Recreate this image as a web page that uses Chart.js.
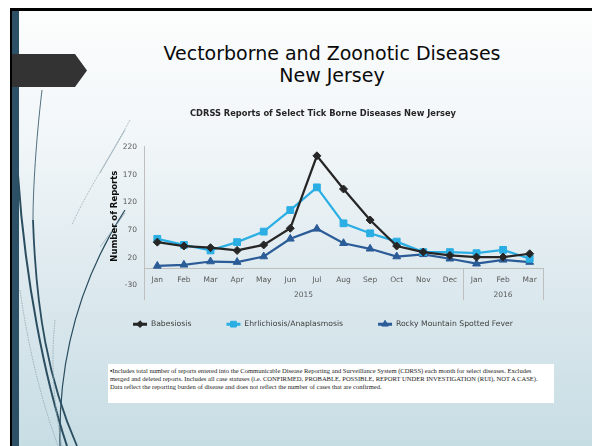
<!DOCTYPE html>
<html>
<head>
<meta charset="utf-8">
<script src="https://cdn.jsdelivr.net/npm/chart.js@4.4.1/dist/chart.umd.min.js"></script>
<style>
  html, body { margin: 0; padding: 0; background: #fff; }
  #page { position: relative; width: 592px; height: 446px; overflow: hidden; background: #fff; font-family: "DejaVu Sans", sans-serif; }
  #slide { position: absolute; left: 10px; top: 8px; right: 0; bottom: 0; border-top: 3px solid #000; border-left: 2px solid #000;
    background: linear-gradient(180deg, #fcfdfd 0%, #f1f6f8 30%, #dde9ee 62%, #c7dde4 100%); }
  #stripe { position: absolute; left: 12px; top: 11px; width: 7px; bottom: 0; background: #2c5166; }
  #deco { position: absolute; left: 0; top: 0; }
  #title { position: absolute; left: 132px; top: 42px; width: 400px; text-align: center; font-size: 19px; line-height: 22px; color: #0a0a0a; }
  #chart { position: absolute; left: 60px; top: 100px; }
  #note { position: absolute; left: 108px; top: 364px; width: 446px; height: 39px; background: #fff;
    font-family: "Liberation Serif", serif; font-size: 6.55px; line-height: 8px; color: #222; padding: 3px 0 0 2px; box-sizing: border-box; white-space: nowrap; }
</style>
</head>
<body>
<div id="page">
  <div id="slide"></div>
  <div id="stripe"></div>
  <svg id="deco" width="592" height="446">
    <polygon points="12,54 75,54 87,70.5 75,87 12,87" fill="#333333"/>
    <path d="M 42 90 C 36 140, 33 190, 33 220" fill="none" stroke="#2a4d60" stroke-width="0.8"/>
    <path d="M 33 220 C 36 310, 48 380, 77 446" fill="none" stroke="#2a4d60" stroke-width="1.8"/>
    <path d="M 18 175 C 25 280, 45 380, 67 446" fill="none" stroke="#2a4d60" stroke-width="2"/>
    <path d="M 125 210 C 80 280, 58 360, 60 446" fill="none" stroke="#2a4d60" stroke-width="1.2"/>
    <path d="M 130 120 C 105 165, 85 195, 72 225" fill="none" stroke="#9fb3bd" stroke-width="0.8" stroke-dasharray="2 1"/>
    <path d="M 125 130 L 100 173" fill="none" stroke="#8fa5b0" stroke-width="0.7"/>
    <path d="M 125 213 L 100 247" fill="none" stroke="#8fa5b0" stroke-width="0.7"/>
    <path d="M 20 290 C 30 360, 45 410, 58 446" fill="none" stroke="#8fa5b0" stroke-width="0.8" stroke-dasharray="1.5 1"/>
    <path d="M 55 320 C 50 370, 55 410, 62 446" fill="none" stroke="#8fa5b0" stroke-width="0.8" stroke-dasharray="1.5 1"/>
  </svg>
  <div id="title">Vectorborne and Zoonotic Diseases<br>New Jersey</div>
  <canvas id="chart" width="526" height="238"></canvas>
  <div id="note">&#9642;Includes total number of reports entered into the Communicable Disease Reporting and Surveillance System (CDRSS) each month for select diseases. Excludes<br>merged and deleted reports. Includes all case statuses (i.e. CONFIRMED, PROBABLE, POSSIBLE, REPORT UNDER INVESTIGATION (RUI), NOT A CASE).<br>Data reflect the reporting burden of disease and does not reflect the number of cases that are confirmed.</div>
</div>
<script>
const months = ['Jan', 'Feb', 'Mar', 'Apr', 'May', 'Jun', 'Jul', 'Aug', 'Sep', 'Oct', 'Nov', 'Dec', 'Jan', 'Feb', 'Mar'];
const yearGroups = ['2015', '2016'];
const yearSpans = [12, 3];
const yTicks = [-30, 20, 70, 120, 170, 220];

const babesiosis = [48, 41, 38, 33, 43, 73, 204, 144, 88, 41, 30, 24, 21, 21, 27];
const ehrlichiosis = [54, 43, 33, 48, 67, 106, 147, 82, 64, 49, 30, 30, 28, 34, 18];
const rmsf = [5, 7, 13, 12, 22, 54, 72, 46, 36, 22, 26, 18, 9, 16, 12];

const gray = '#595959';
const axisColor = '#bfbfbf';
const legendBox = 14;
Chart.defaults.font.family = '"DejaVu Sans", sans-serif';

function series(label, data, color, style, radius) {
  return {
    label: label,
    data: data,
    borderColor: color,
    backgroundColor: color,
    borderWidth: 2.25,
    pointStyle: style,
    pointRadius: radius,
    pointBorderWidth: 1,
    tension: 0,
  };
}

// year row under the month labels, plus the little divider lines
// also puts the point marker on top of each legend line
const extras = {
  id: 'extras',
  afterDraw(chart) {
    const { ctx, scales: { x, y } } = chart;
    const step = x.getPixelForValue(1) - x.getPixelForValue(0);
    const top = y.getPixelForValue(0);
    const bottom = top + 31.5;
    ctx.save();
    ctx.strokeStyle = axisColor;
    ctx.lineWidth = 1;
    ctx.fillStyle = gray;
    ctx.font = '7.5px "DejaVu Sans"';
    ctx.textAlign = 'center';
    ctx.textBaseline = 'middle';
    const edges = [x.left];
    let start = 0;
    yearGroups.forEach((yr, i) => {
      const x0 = x.getPixelForValue(start) - step / 2;
      const x1 = x.getPixelForValue(start + yearSpans[i] - 1) + step / 2;
      ctx.fillText(yr, (x0 + x1) / 2, top + 26.6);
      edges.push(x1);
      start += yearSpans[i];
    });
    edges.forEach((px) => {
      const xx = Math.round(px) + 0.5;
      ctx.beginPath();
      ctx.moveTo(xx, top);
      ctx.lineTo(xx, bottom);
      ctx.stroke();
    });

    const legend = chart.legend;
    legend.legendHitBoxes.forEach((hb, i) => {
      const ds = chart.data.datasets[i];
      ctx.fillStyle = ds.borderColor;
      ctx.strokeStyle = ds.borderColor;
      ctx.lineWidth = 1;
      Chart.helpers.drawPoint(ctx, {
        pointStyle: ds.pointStyle,
        radius: ds.pointRadius * 0.85,
        rotation: 0,
        borderWidth: 1,
      }, hb.left + legendBox / 2, hb.top + hb.height / 2);
    });
    ctx.restore();
  },
};

new Chart(document.getElementById('chart'), {
  type: 'line',
  data: {
    labels: months,
    datasets: [
      series('Babesiosis', babesiosis, '#262626', 'rectRot', 4),
      series('Ehrlichiosis/Anaplasmosis', ehrlichiosis, '#2aaee4', 'rect', 4.8),
      series('Rocky Mountain Spotted Fever', rmsf, '#2b5c98', 'triangle', 4.5),
    ],
  },
  options: {
    responsive: false,
    animation: false,
    layout: { padding: 0 },
    plugins: {
      title: {
        display: true,
        text: 'CDRSS Reports of Select Tick Borne Diseases New Jersey',
        color: '#262626',
        font: { size: 8.3, weight: 'bold' },
        padding: { top: 9, bottom: 28 },
      },
      legend: {
        position: 'bottom',
        labels: {
          boxWidth: legendBox,
          boxHeight: 3,
          padding: 35,
          color: '#404040',
          font: { size: 7.7 },
          generateLabels: (chart) => {
            const items = Chart.defaults.plugins.legend.labels.generateLabels(chart);
            return items.map((it) => Object.assign(it, { lineWidth: 0 }));
          },
        },
      },
      tooltip: { enabled: false },
    },
    scales: {
      x: {
        type: 'category',
        offset: true,
        position: { y: 0 },
        grid: { display: false, drawTicks: false },
        border: { display: true, color: axisColor, width: 1 },
        ticks: { color: gray, font: { size: 7.5 }, padding: 6.5, autoSkip: false, maxRotation: 0 },
      },
      y: {
        min: -30,
        max: 220,
        grid: { display: false, drawTicks: false },
        border: { display: true, color: axisColor, width: 1 },
        afterBuildTicks: (scale) => {
          scale.ticks = yTicks.map((v) => ({ value: v }));
        },
        afterFit: (scale) => { scale.width = 84; },
        ticks: { color: gray, font: { size: 7.5 }, padding: 7 },
        title: {
          display: true,
          text: 'Number of Reports',
          color: '#0d0d0d',
          font: { size: 8.5, weight: 'bold' },
          padding: { top: 50, bottom: 3 },
        },
      },
      // empty right-hand axis, only there to leave room on the right
      y2: {
        position: 'right',
        display: true,
        grid: { display: false, drawTicks: false },
        border: { display: false },
        ticks: { display: false },
        afterFit: (scale) => { scale.width = 43; },
      },
    },
  },
  plugins: [extras],
});
</script>
</body>
</html>
